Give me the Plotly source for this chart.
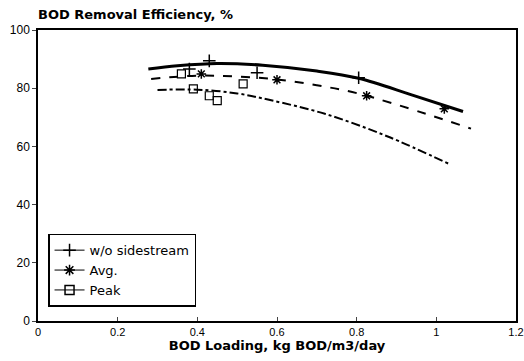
import plotly.graph_objects as go

# Measured points
wo_x = [0.38, 0.43, 0.55, 0.805]
wo_y = [86.6, 89.4, 85.3, 83.6]
avg_x = [0.41, 0.60, 0.825, 1.02]
avg_y = [84.9, 82.9, 77.4, 72.9]
peak_x = [0.36, 0.39, 0.43, 0.45, 0.515]
peak_y = [84.9, 79.8, 77.4, 75.7, 81.5]

# Fitted curves
wo_cx = [0.277, 0.35, 0.45, 0.564, 0.70, 0.805, 0.94, 1.067]
wo_cy = [86.6, 87.7, 88.5, 87.9, 85.9, 83.4, 77.6, 72.0]
avg_cx = [0.284, 0.40, 0.50, 0.60, 0.70, 0.80, 0.974, 1.087]
avg_cy = [83.2, 84.3, 84.0, 83.0, 81.0, 78.3, 71.2, 66.1]
peak_cx = [0.30, 0.40, 0.50, 0.58, 0.72, 0.878, 1.03]
peak_cy = [79.4, 79.5, 78.2, 76.0, 71.2, 63.4, 54.1]

x_ticks = [0, 0.2, 0.4, 0.6, 0.8, 1.0, 1.2]
x_labels = ["0", "0.2", "0.4", "0.6", "0.8", "1", "1.2"]
y_ticks = [0, 20, 40, 60, 80, 100]

names = ["w/o sidestream", "Avg.", "Peak"]

fig = go.Figure()
fig.add_trace(go.Scatter(x=wo_cx, y=wo_cy, mode="lines", line=dict(color="black", width=3, shape="spline"), showlegend=False))
fig.add_trace(go.Scatter(x=avg_cx, y=avg_cy, mode="lines", line=dict(color="black", width=2, dash="dash", shape="spline"), showlegend=False))
fig.add_trace(go.Scatter(x=peak_cx, y=peak_cy, mode="lines", line=dict(color="black", width=2, dash="dashdot", shape="spline"), showlegend=False))

fig.add_trace(go.Scatter(x=wo_x, y=wo_y, mode="markers", marker=dict(symbol="cross-thin", size=9, line=dict(color="black", width=1.5)), showlegend=False))
fig.add_trace(go.Scatter(x=avg_x, y=avg_y, mode="markers", marker=dict(symbol="asterisk", size=8, line=dict(color="black", width=1.5)), showlegend=False))
fig.add_trace(go.Scatter(x=peak_x, y=peak_y, mode="markers", marker=dict(symbol="square-open", size=8, color="black", line=dict(width=1.2)), showlegend=False))

# Legend entries
leg_syms = ["cross-thin", "asterisk", "square-open"]
for nm, sym in zip(names, leg_syms):
    fig.add_trace(go.Scatter(x=[None], y=[None], mode="lines+markers", name=nm,
                             line=dict(color="black", width=1),
                             marker=dict(symbol=sym, size=9, color="black", line=dict(color="black", width=1.5))))

tick_font = dict(family="Liberation Sans", size=12, color="black")

fig.update_layout(
    width=524, height=361,
    margin=dict(l=38, r=8, t=30, b=40, autoexpand=False),
    plot_bgcolor="white", paper_bgcolor="white",
    font=dict(family="DejaVu Sans", size=12, color="black"),
    title=dict(text="<b>BOD Removal Efficiency, %</b>", x=0, xref="paper", xanchor="left", y=1, yref="container", yanchor="top", pad=dict(t=10), font=dict(size=13)),
    legend=dict(x=0.021, y=0.30, xanchor="left", yanchor="top", bordercolor="black", borderwidth=1.5,
                bgcolor="white", font=dict(size=13), tracegroupgap=5, itemwidth=30),
    xaxis=dict(range=[0, 1.2], tickvals=x_ticks, ticktext=x_labels, ticks="inside", ticklen=4,
               ticklabeloverflow="allow", tickfont=dict(family="Liberation Sans", size=11, color="black"),
               showline=True, linecolor="black", linewidth=1.5, mirror=True, showgrid=False, zeroline=False,
               automargin=False,
               title=dict(text="<b>BOD Loading, kg BOD/m3/day</b>", standoff=1, font=dict(size=13))),
    yaxis=dict(range=[0, 100], tickvals=y_ticks, ticks="outside", ticklen=4, automargin=False,
               ticklabeloverflow="allow", tickfont=tick_font,
               showline=True, linecolor="black", linewidth=1.5, mirror=True, showgrid=False, zeroline=False),
)

fig.write_html("out.html", config={"displayModeBar": False},
               post_script="document.body.style.margin='0';document.body.style.padding='0';window.dispatchEvent(new Event('resize'));")
